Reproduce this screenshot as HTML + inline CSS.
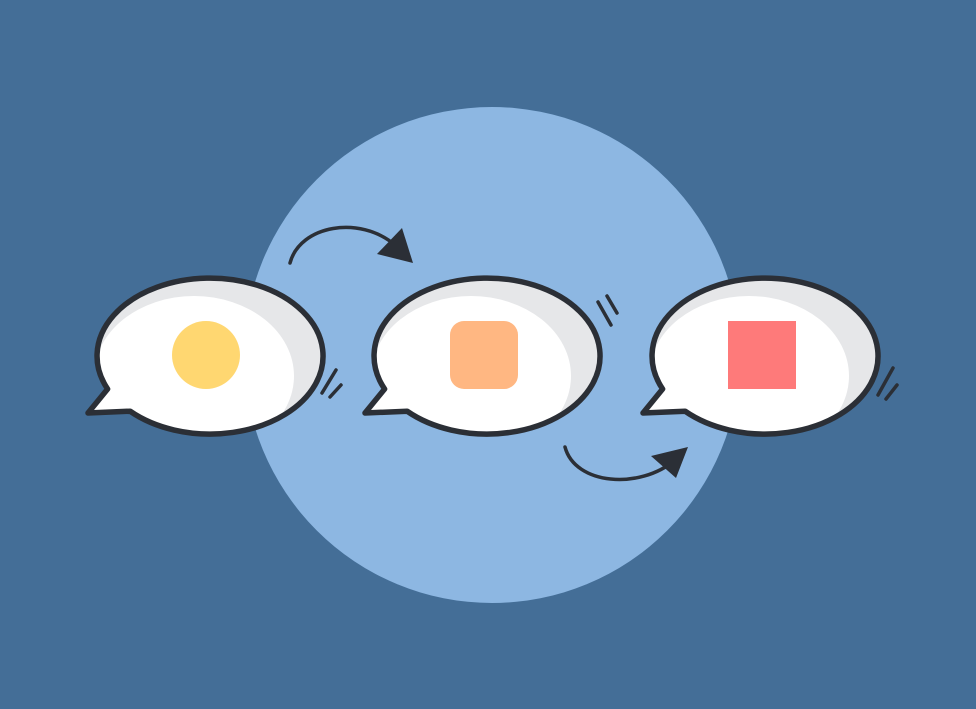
<!DOCTYPE html>
<html><head><style>html,body{margin:0;padding:0;background:#446e97}svg{display:block}</style></head>
<body>
<svg width="976" height="709" viewBox="0 0 976 709" xmlns="http://www.w3.org/2000/svg">
<defs>
<path id="bp" d="M130.1,411.2 A113,78 0 1 0 107.6,389 L88,413 Z"/>
<clipPath id="cp"><use href="#bp"/></clipPath>
<g id="bub">
<use href="#bp" fill="#e6e7e9"/>
<g clip-path="url(#cp)">
<ellipse cx="194" cy="376" rx="100" ry="80" fill="#fff"/>
<polygon points="80,420 140,420 140,380 100,380" fill="#fff"/>
</g>
<use href="#bp" fill="none" stroke="#2b2f36" stroke-width="5.5" stroke-linejoin="round"/>
</g>
</defs>
<rect width="976" height="709" fill="#446e97"/>
<circle cx="492" cy="355" r="248" fill="#8db7e2"/>
<use href="#bub"/>
<use href="#bub" transform="translate(277,0)"/>
<use href="#bub" transform="translate(555,0)"/>
<circle cx="206" cy="355" r="34" fill="#ffd771"/>
<rect x="450" y="321" width="68" height="68" rx="14" fill="#ffb782"/>
<rect x="728" y="321" width="68" height="68" fill="#fe7a7a"/>
<g stroke="#2b2f36" stroke-width="3.5" stroke-linecap="round" fill="none">
<path d="M290,263 C300,225 360,215 395,245"/>
<path d="M565,447 C575,485 640,490 675,460"/>
<path d="M322,393 L336,370 M330,397 L341,385"/>
<path d="M598,302 L611,325 M607,296 L617,313"/>
<path d="M878,395 L893,368 M886,399 L897,385"/>
</g>
<g fill="#2b2f36">
<polygon points="413,263 402,228 377,254"/>
<polygon points="688,447 651,456 676,478"/>
</g>
</svg>
</body></html>
